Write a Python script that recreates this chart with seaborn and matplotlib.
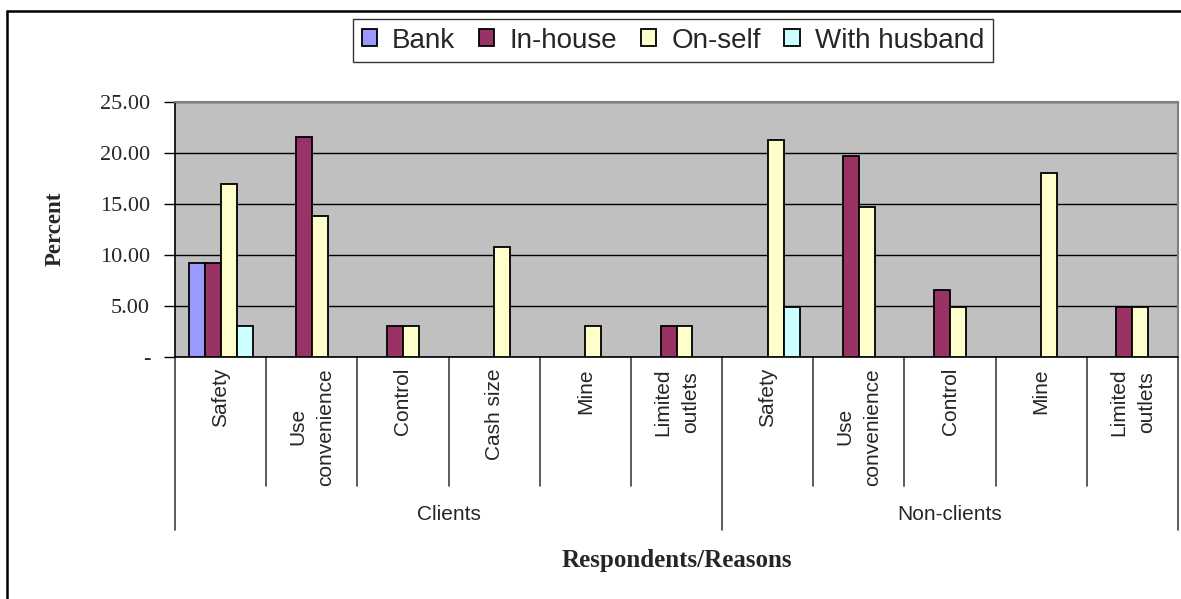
import pandas as pd
import matplotlib
matplotlib.use("Agg")
import matplotlib.pyplot as plt
import matplotlib.transforms as mtransforms
from matplotlib.lines import Line2D
import seaborn as sns

OUTPUT_PATH = "out.png"

# --- chart data (percent of respondents) ---
groups = ["Clients", "Non-clients"]
client_reasons = ["Safety", "Use\nconvenience", "Control", "Cash size", "Mine", "Limited\noutlets"]
nonclient_reasons = ["Safety", "Use\nconvenience", "Control", "Mine", "Limited\noutlets"]

series = ["Bank", "In-house", "On-self", "With husband"]
colors = ["#9999FF", "#993366", "#FFFFCC", "#CCFFFF"]

# one value per reason, clients first then non-clients; None = no bar
bank = [9.23, None, None, None, None, None, None, None, None, None, None]
in_house = [9.23, 21.54, 3.08, None, None, 3.08, None, 19.67, 6.56, None, 4.92]
on_self = [16.92, 13.85, 3.08, 10.77, 3.08, 3.08, 21.31, 14.75, 4.92, 18.03, 4.92]
with_husband = [3.08, None, None, None, None, None, 4.92, None, None, None, None]

y_ticks = [0, 5, 10, 15, 20, 25]


def build_frame():
    keys = [f"{groups[0]}|{r}" for r in client_reasons] + [f"{groups[1]}|{r}" for r in nonclient_reasons]
    rows = []
    for name, vals in zip(series, [bank, in_house, on_self, with_husband]):
        for key, v in zip(keys, vals):
            if v is not None:
                rows.append({"key": key, "series": name, "value": v})
    return pd.DataFrame(rows), keys


def main():
    sns.set_theme(style="white")
    plt.rcParams["font.family"] = ["Liberation Sans", "DejaVu Sans"]

    df, keys = build_frame()

    fig = plt.figure(figsize=(11.81, 5.99), dpi=100)
    W, H = 1181, 599
    ax = fig.add_axes([175 / W, 1 - 357 / H, (1178 - 175) / W, (357 - 102) / H])

    sns.barplot(
        data=df, x="key", y="value", hue="series",
        order=keys, hue_order=series, palette=colors, saturation=1,
        width=0.7, edgecolor="black", linewidth=1.3,
        errorbar=None, ax=ax, legend=True, zorder=3,
    )

    ax.set_facecolor("#C0C0C0")
    ax.set_xlim(-0.5, len(keys) - 0.5)
    ax.set_ylim(0, 25)
    ax.set_yticks(y_ticks)
    ax.set_yticklabels(["-" if t == 0 else f"{t:.2f}" for t in y_ticks],
                       family="Liberation Serif", fontsize=16)
    ax.tick_params(axis="y", direction="out", length=8, width=1, color="black", pad=10, left=True)
    ax.set_xticks([])
    ax.set_xlabel("")
    ax.set_ylabel("")

    ax.yaxis.grid(True, color="black", linewidth=1)
    ax.set_axisbelow(True)
    for side in ["left", "bottom"]:
        ax.spines[side].set_color("black")
        ax.spines[side].set_linewidth(1.2)
    for side in ["top", "right"]:
        ax.spines[side].set_color("#808080")
        ax.spines[side].set_linewidth(1.5)

    # category axis: reasons, separators, groups
    trans = mtransforms.blended_transform_factory(ax.transData, ax.transAxes)
    ax_h = 357 - 102
    sep_end = (357 - 486) / ax_h
    grp_end = (357 - 530) / ax_h
    n_clients = len(client_reasons)
    for i in range(len(keys) + 1):
        x = i - 0.5
        y_end = grp_end if i in (0, n_clients, len(keys)) else sep_end
        ax.plot([x, x], [0, y_end], transform=trans, color="#404040", lw=1.2, clip_on=False)

    labels = client_reasons + nonclient_reasons
    for i, lab in enumerate(labels):
        ax.text(i, (357 - 368) / ax_h, lab, transform=trans, rotation=90,
                ha="center", va="top", multialignment="center", fontsize=15,
                linespacing=1.6)

    grp_y = (357 - 514) / ax_h
    ax.text((n_clients - 1) / 2, grp_y, groups[0], transform=trans, ha="center", va="center", fontsize=15)
    ax.text((n_clients + len(keys) - 1) / 2, grp_y, groups[1], transform=trans, ha="center", va="center", fontsize=15)

    ax.text(0.5, (357 - 560) / ax_h, "Respondents/Reasons", transform=ax.transAxes,
            ha="center", va="center", family="Liberation Serif", fontweight="bold", fontsize=18)
    fig.text(55 / W, 1 - 229 / H, "Percent", rotation=90, ha="center", va="center",
             family="Liberation Serif", fontweight="bold", fontsize=16.5)

    # legend on top
    handles, names = ax.get_legend_handles_labels()
    ax.get_legend().remove()
    leg = fig.legend(
        handles, names, loc="center", ncol=4,
        bbox_to_anchor=((348 + 998) / 2 / W, 1 - 40.5 / H),
        fontsize=20, frameon=True, fancybox=False, edgecolor="black",
        handlelength=0.55, handleheight=0.55, handletextpad=0.55,
        columnspacing=0.85, borderpad=0.3,
    )
    leg.get_frame().set_linewidth(1.0)

    # outer chart border (only top and left edges fall inside the picture)
    fig.lines.append(Line2D([7 / W, 7 / W], [0, 1 - 10.5 / H], transform=fig.transFigure,
                            color="black", lw=1.8))
    fig.lines.append(Line2D([7 / W, 1], [1 - 10.5 / H, 1 - 10.5 / H], transform=fig.transFigure,
                            color="black", lw=1.8))

    fig.savefig(OUTPUT_PATH, dpi=100)
    plt.close(fig)


if __name__ == "__main__":
    main()
